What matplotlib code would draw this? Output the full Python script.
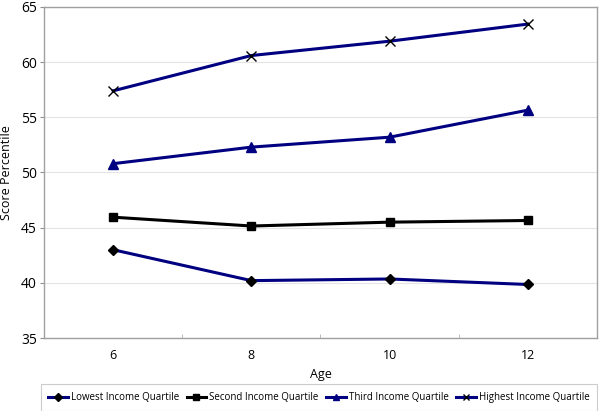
import matplotlib.pyplot as plt

plt.rcParams["font.family"] = ["Open Sans", "DejaVu Sans"]

ages = ["6", "8", "10", "12"]
lowest = [43.0, 40.2, 40.35, 39.85]
second = [45.95, 45.15, 45.5, 45.65]
third = [50.8, 52.3, 53.2, 55.65]
highest = [57.4, 60.6, 61.9, 63.45]

NAVY = "#000080"

fig = plt.figure(figsize=(6.0, 4.11), dpi=100)
ax = fig.add_axes([0.0733, 0.1776, 0.9217, 0.8054])

x = list(range(len(ages)))
ax.plot(x, lowest, color=NAVY, lw=2.2, marker="D", ms=5, mfc="black", mec="black",
        label="Lowest Income Quartile")
ax.plot(x, second, color="black", lw=2.2, marker="s", ms=6, mfc="black", mec="black",
        label="Second Income Quartile")
ax.plot(x, third, color=NAVY, lw=2.2, marker="^", ms=6.5, mfc=NAVY, mec=NAVY,
        label="Third Income Quartile")
ax.plot(x, highest, color=NAVY, lw=2.2, marker="x", ms=6.5, mec="black", mew=1.0,
        label="Highest Income Quartile")

ax.set_xlim(-0.5, len(ages) - 0.5)
ax.set_ylim(35, 65)
ax.set_yticks(range(35, 66, 5))
ax.set_xticks(x)
ax.set_xticklabels(ages)
ax.set_xticks([0.5, 1.5, 2.5], minor=True)
ax.tick_params(axis="x", which="major", length=0, labelsize=9, pad=8)
ax.tick_params(axis="x", which="minor", length=3, direction="in", color="#b0b0b0")
ax.tick_params(axis="y", length=3, direction="out", color="#909090", labelsize=10, pad=2)
ax.grid(True, axis="y", color="#e4e4e4", lw=0.8)
ax.set_axisbelow(True)
for s in ax.spines.values():
    s.set_color("#a0a0a0")
    s.set_linewidth(1.0)

ax.set_xlabel("Age", fontsize=9, labelpad=4)
ax.set_ylabel("Score Percentile", fontsize=9, labelpad=6)

# legend box sits under the axes, same width as the plot area
leg = ax.legend(loc="upper center", bbox_to_anchor=(0.497, -0.125), ncol=4, fontsize=7.0,
                frameon=True, fancybox=False, edgecolor="#c0c0c0", handlelength=2.0,
                handletextpad=0.3, columnspacing=0.8, borderpad=0.8, markerscale=0.75)
leg.get_frame().set_linewidth(0.8)

fig.savefig("out.png", dpi=100)
